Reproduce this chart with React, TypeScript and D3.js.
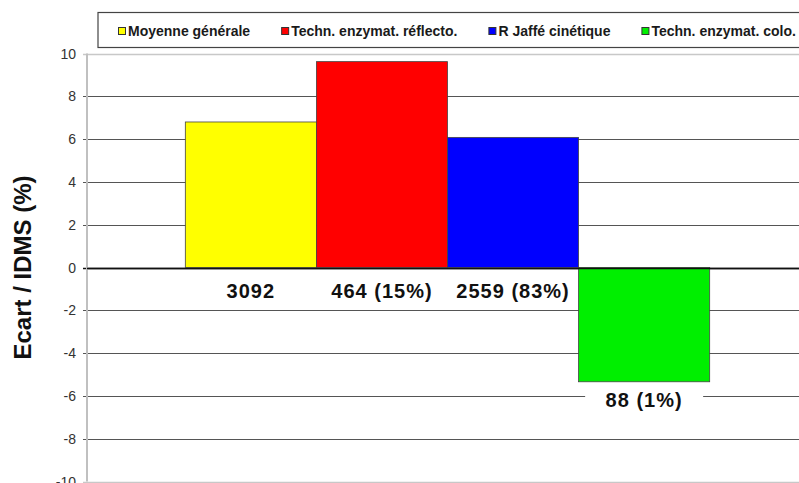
import * as d3 from "d3";
import { useEffect, useRef } from "react";

// séries (une barre par méthode)
const series = [
	"Moyenne générale",
	"Techn. enzymat. réflecto.",
	"R Jaffé cinétique",
	"Techn. enzymat. colo.",
];
const values = [6.8, 9.62, 6.08, -5.34];
const barLabels = ["3092", "464 (15%)", "2559 (83%)", "88 (1%)"];
const colors = ["#ffff00", "#ff0000", "#0000ff", "#00ef00"];
const yTicks = [-10, -8, -6, -4, -2, 0, 2, 4, 6, 8, 10];
const yTitle = "Ecart / IDMS (%)";

const W = 799;
const H = 483;

const Chart = () => {
	const svgRef = useRef<SVGSVGElement>(null);

	useEffect(() => {
		if (!svgRef.current) return;

		const margin = { top: 53.5, left: 87, right: -9, bottom: 1.5 };
		const font = "'Liberation Sans', Arial, sans-serif";

		const svg = d3.select(svgRef.current);
		svg.selectAll("*").remove();

		const x = d3
			.scaleBand<string>()
			.domain(series)
			.range([margin.left, W - margin.right])
			.paddingInner(0)
			.paddingOuter(0.75);

		const y = d3
			.scaleLinear()
			.domain([-10, 10])
			.range([H - margin.bottom, margin.top]);

		// lignes de grille
		const grid = svg.append("g");
		grid
			.selectAll("line")
			.data(yTicks)
			.enter()
			.append("line")
			.attr("x1", margin.left - 4)
			.attr("x2", W)
			.attr("y1", (d) => Math.round(y(d)) + 0.5)
			.attr("y2", (d) => Math.round(y(d)) + 0.5)
			.attr("stroke", (d) =>
				d === 0 ? "#111" : d === 10 || d === -10 ? "#c8c8c8" : "#555"
			)
			.attr("stroke-width", (d) => (d === 0 ? 1.6 : d === 10 || d === -10 ? 1.5 : 1.2));

		// axe vertical
		svg
			.append("line")
			.attr("x1", margin.left)
			.attr("x2", margin.left)
			.attr("y1", y(10))
			.attr("y2", y(-10))
			.attr("stroke", "#c0c0c0")
			.attr("stroke-width", 2);

		// étiquettes de l'axe
		svg
			.append("g")
			.selectAll("text")
			.data(yTicks)
			.enter()
			.append("text")
			.attr("x", margin.left - 11)
			.attr("y", (d) => y(d) + 5)
			.attr("text-anchor", "end")
			.style("font-family", font)
			.style("font-size", "14px")
			.attr("fill", "#333")
			.text((d) => d);

		// barres
		svg
			.append("g")
			.selectAll("rect")
			.data(values)
			.enter()
			.append("rect")
			.attr("x", (_, i) => x(series[i]) ?? 0)
			.attr("width", x.bandwidth())
			.attr("y", (d) => y(Math.max(0, d)))
			.attr("height", (d) => Math.abs(y(d) - y(0)))
			.attr("fill", (_, i) => colors[i])
			.attr("stroke", "#444")
			.attr("stroke-width", 0.8);

		// redessine la ligne zéro par-dessus
		svg
			.append("line")
			.attr("x1", margin.left)
			.attr("x2", W)
			.attr("y1", Math.round(y(0)) + 0.5)
			.attr("y2", Math.round(y(0)) + 0.5)
			.attr("stroke", "#111")
			.attr("stroke-width", 1.6);

		// étiquettes des barres (effectifs)
		const labels = svg
			.append("g")
			.selectAll("g")
			.data(values)
			.enter()
			.append("g")
			.attr("transform", (d, i) => {
				const cx = (x(series[i]) ?? 0) + x.bandwidth() / 2;
				const by = d >= 0 ? y(0) + 30 : y(d) + 25;
				return `translate(${cx}, ${by})`;
			});

		labels
			.append("rect")
			.attr("x", -x.bandwidth() * 0.45)
			.attr("y", -19)
			.attr("width", x.bandwidth() * 0.9)
			.attr("height", 24)
			.attr("fill", "#fff");

		labels
			.append("text")
			.attr("text-anchor", "middle")
			.style("font-family", font)
			.style("font-size", "20px")
			.style("font-weight", "bold")
			.style("letter-spacing", "1px")
			.attr("fill", "#111")
			.text((_, i) => barLabels[i]);

		// titre de l'axe Y
		svg
			.append("text")
			.attr("transform", `translate(31, ${(y(10) + y(-10)) / 2}) rotate(-90)`)
			.attr("text-anchor", "middle")
			.style("font-family", font)
			.style("font-size", "24px")
			.style("font-weight", "bold")
			.attr("fill", "#111")
			.text(yTitle);

		// légende
		const legend = svg.append("g");
		legend
			.append("rect")
			.attr("x", 98)
			.attr("y", 12.5)
			.attr("width", W)
			.attr("height", 35)
			.attr("fill", "#fff")
			.attr("stroke", "#444")
			.attr("stroke-width", 1.2);

		let lx = 118;
		series.forEach((name, i) => {
			legend
				.append("rect")
				.attr("x", lx + 0.5)
				.attr("y", 27.5)
				.attr("width", 7)
				.attr("height", 7)
				.attr("fill", colors[i])
				.attr("stroke", "#333")
				.attr("stroke-width", 1);

			const t = legend
				.append("text")
				.attr("x", lx + 10)
				.attr("y", 35.5)
				.style("font-family", font)
				.style("font-size", "14px")
				.style("font-weight", "bold")
				.attr("fill", "#1a1a1a")
				.text(name);

			const len = (t.node() as SVGTextElement).getComputedTextLength();
			lx += 10 + len + 31;
		});
	}, []);

	return (
		<svg
			ref={svgRef}
			width={W}
			height={H}
			style={{ position: "absolute", left: 0, top: 0, background: "#fff" }}
		></svg>
	);
};

export default function App() {
	return <Chart />;
}
